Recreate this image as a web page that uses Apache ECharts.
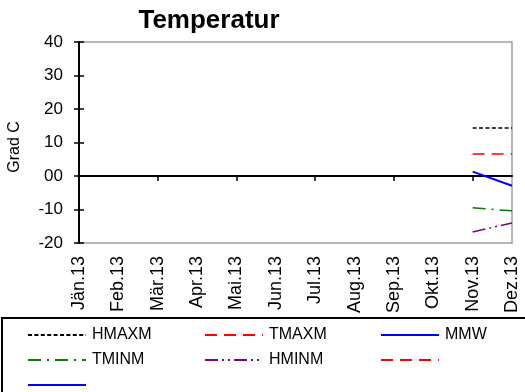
<!DOCTYPE html>
<html>
<head>
<meta charset="utf-8">
<script src="https://cdn.jsdelivr.net/npm/echarts@6/dist/echarts.min.js"></script>
<style>
  html, body { margin: 0; padding: 0; background: #fff; }
  #chart { width: 525px; height: 392px; }
</style>
</head>
<body>
<div id="chart"></div>
<script>
"use strict";
/** Month labels of the x axis */
const months = ["Jän.13", "Feb.13", "Mär.13", "Apr.13", "Mai.13", "Jun.13",
    "Jul.13", "Aug.13", "Sep.13", "Okt.13", "Nov.13", "Dez.13"];
/** Only Nov and Dez carry values */
const hmaxm = [null, null, null, null, null, null, null, null, null, null, 14.3, 14.3];
const tmaxm = [null, null, null, null, null, null, null, null, null, null, 6.6, 6.6];
const mmw = [null, null, null, null, null, null, null, null, null, null, 1.3, -2.9];
const tminm = [null, null, null, null, null, null, null, null, null, null, -9.5, -10.4];
const hminm = [null, null, null, null, null, null, null, null, null, null, -16.7, -14.0];
const blankRed = [];
const blankBlue = [];

const font = "Liberation Sans, Arial, sans-serif";

function MakeLine(name, data, color, dash, width) {
    return {
        name: name,
        type: "line",
        data: data,
        symbol: "none",
        connectNulls: false,
        xAxisIndex: 0,
        yAxisIndex: 0,
        lineStyle: { color: color, width: width || 1.5, type: dash },
        itemStyle: { color: color },
        silent: true
    };
}

function MakeLegend(left, names) {
    return {
        orient: "vertical",
        left: left,
        top: 326,
        padding: 0,
        height: 80,
        itemWidth: 58,
        itemHeight: 1,
        itemGap: 7,
        data: names,
        selectedMode: false,
        // hide the symbol drawn on top of the line icon
        itemStyle: { color: "rgba(0,0,0,0)", borderWidth: 0, opacity: 0 },
        formatter: (n) => n.startsWith("blank") ? " " : n,
        textStyle: { fontFamily: font, fontSize: 16, lineHeight: 18, color: "#000", padding: [0, 0, 0, 1] }
    };
}

let chart = echarts.init(document.getElementById("chart"), null, { renderer: "canvas" });
chart.setOption({
    animation: false,
    title: {
        text: "Temperatur",
        left: 204,
        top: 3,
        textAlign: "center",
        textStyle: { fontFamily: font, fontSize: 26, fontWeight: "bold", color: "#000" }
    },
    grid: {
        left: 79, right: 13, top: 42, bottom: 149,
        show: true, borderColor: "#a0a0a0", borderWidth: 1.5, backgroundColor: "#fff"
    },
    xAxis: [{
        type: "category",
        data: months,
        boundaryGap: false,
        axisLine: { onZero: true, lineStyle: { color: "#000", width: 2 } },
        axisTick: { show: true, length: 5, lineStyle: { color: "#000", width: 1.5 } },
        axisLabel: { show: false },
        splitLine: { show: false }
    }, {
        type: "category",
        data: months,
        boundaryGap: false,
        position: "bottom",
        axisLine: { show: false, onZero: false },
        axisTick: { show: false },
        axisLabel: {
            rotate: 90, margin: 13, interval: 0,
            fontFamily: font, fontSize: 18, color: "#000"
        },
        splitLine: { show: false }
    }],
    yAxis: [{
        type: "value",
        min: -20, max: 40, interval: 10,
        axisLine: { show: true, lineStyle: { color: "#000", width: 2 } },
        axisTick: { show: true, length: 5, lineStyle: { color: "#000", width: 1.5 } },
        axisLabel: {
            margin: 16, fontFamily: font, fontSize: 17, color: "#000",
            formatter: (v) => v === 0 ? "00" : String(v)
        },
        splitLine: { show: false }
    }, {
        // second axis only to draw the inner half of the cross ticks
        type: "value",
        min: -20, max: 40, interval: 10,
        position: "left",
        axisLine: { show: false },
        axisTick: { show: true, inside: true, length: 5, lineStyle: { color: "#000", width: 1.5 } },
        axisLabel: { show: false },
        splitLine: { show: false }
    }],
    legend: [
        MakeLegend(27, ["HMAXM", "TMINM", "blankBlue"]),
        MakeLegend(204, ["TMAXM", "HMINM"]),
        MakeLegend(380, ["MMW", "blankRed"])
    ],
    graphic: [{
        type: "rect",
        shape: { x: 2, y: 318, width: 540, height: 90 },
        style: { fill: null, stroke: "#000", lineWidth: 2 },
        silent: true
    }, {
        type: "text",
        x: 7,
        y: 147,
        rotation: Math.PI / 2,
        style: {
            text: "Grad C",
            fontSize: 16,
            fontFamily: font,
            fill: "#000",
            align: "center",
            verticalAlign: "top"
        },
        silent: true
    }],
    series: [
        MakeLine("HMAXM", hmaxm, "#000000", [4, 2.4]),
        MakeLine("TMAXM", tmaxm, "#ff0000", [12, 7]),
        MakeLine("MMW", mmw, "#0000ff", "solid", 2),
        MakeLine("TMINM", tminm, "#008000", [13, 6, 2, 6]),
        MakeLine("HMINM", hminm, "#800080", [13, 4, 2, 4, 2, 4]),
        MakeLine("blankRed", blankRed, "#ff0000", [12, 7]),
        MakeLine("blankBlue", blankBlue, "#0000ff", "solid", 2)
    ]
});
</script>
</body>
</html>
